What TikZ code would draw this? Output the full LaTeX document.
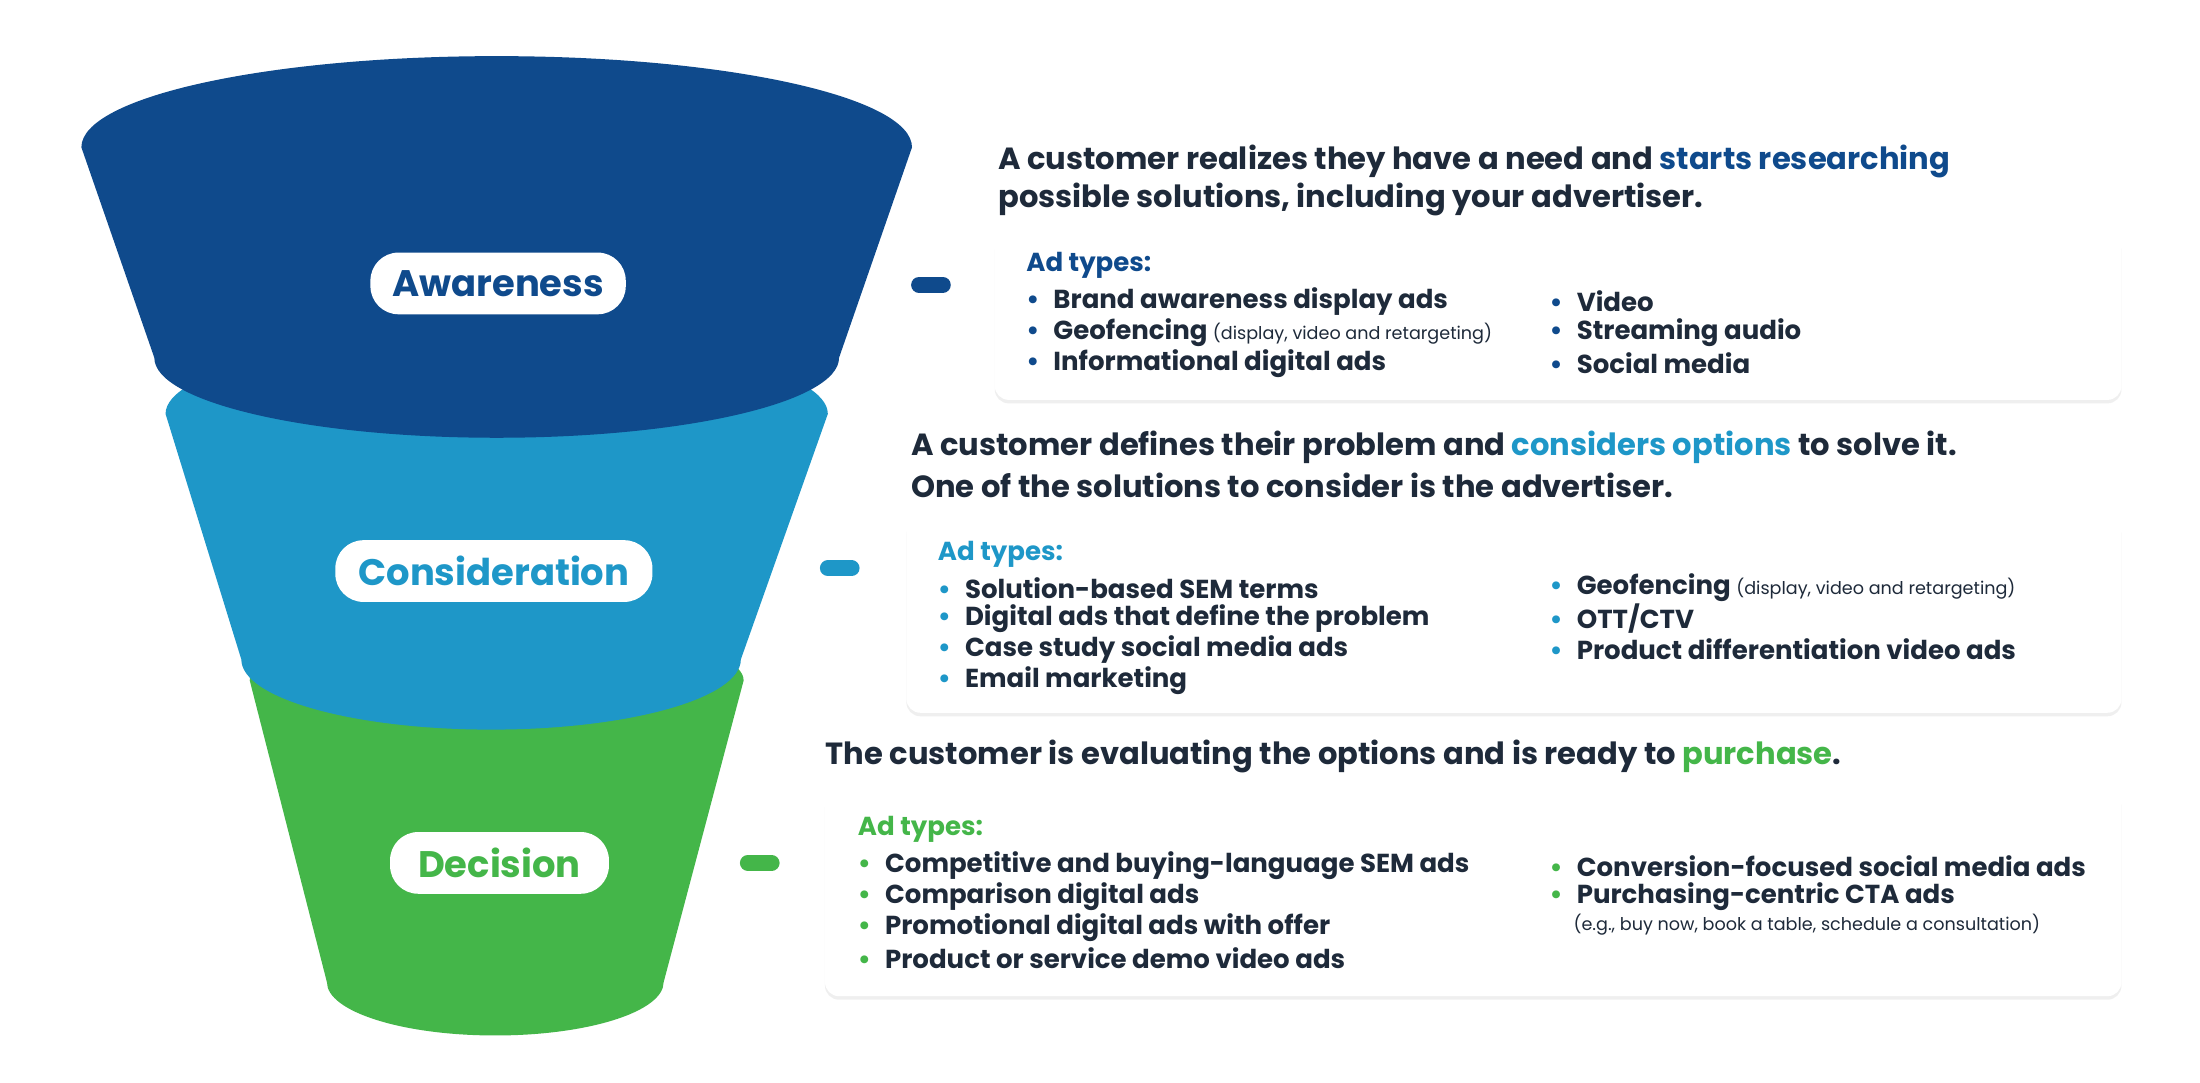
\documentclass[tikz,border=0pt]{standalone}
\usepackage{fontspec}
\setmainfont{Poppins}
\usetikzlibrary{shadows}
\definecolor{cA}{HTML}{0F4A8C}
\definecolor{cC}{HTML}{1E97C8}
\definecolor{cD}{HTML}{44B649}
\definecolor{txt}{HTML}{1E2A3A}
\begin{document}
\begin{tikzpicture}[x=0.01403cm,y=-0.01403cm,
  pill/.style={fill=white,rounded corners=8pt,minimum height=44*0.399pt,font=\fontsize{10.5}{12}\selectfont\bfseries},
  box/.style={fill=white,rounded corners=10*0.399pt,drop shadow={opacity=0.12,shadow xshift=0pt,shadow yshift=-1pt}},
  head/.style={anchor=west,inner sep=0pt,text=txt,font=\fontsize{8.7}{10}\selectfont\bfseries},
  item/.style={anchor=west,inner sep=0pt,text=txt,font=\fontsize{7.4}{9}\selectfont\bfseries},
  tick/.style={line width=4.5pt,line cap=round}]
\useasboundingbox (0,0) rectangle (1568,771.2);
\fill[white] (0,0) rectangle (1568,771.2);
% decision
\fill[cD] (178,485) -- (233,700) arc[start angle=180,end angle=0,x radius=120,y radius=38] -- (530,485) arc[start angle=0,end angle=-180,x radius=176,y radius=40] -- cycle;
% consideration
\fill[cC] (118,295) -- (172,470) arc[start angle=180,end angle=0,x radius=178,y radius=50] -- (590,295) arc[start angle=0,end angle=-180,x radius=236,y radius=55] -- cycle;
% awareness
\fill[cA] (58,105) -- (110,255) arc[start angle=180,end angle=0,x radius=244,y radius=57] -- (650,105) arc[start angle=0,end angle=-180,x radius=296,y radius=65] -- cycle;
\node[pill,text=cA,minimum width=182*0.399pt] (pa) at (355,202) {Awareness};
\node[pill,text=cC,minimum width=226*0.399pt] (pc) at (352,407) {Consideration};
\node[pill,text=cD,minimum width=156*0.399pt] (pd) at (356,615) {Decision};
\draw[tick,cA] (655,203) -- (672,203);
\draw[tick,cC] (590,405) -- (607,405);
\draw[tick,cD] (533,615) -- (550,615);
% boxes
\node[box,minimum width=803*0.399pt,minimum height=118*0.399pt] (b1) at (1110.5,226) {};
\node[box,minimum width=866*0.399pt,minimum height=139*0.399pt] (b2) at (1079,438.5) {};
\node[box,minimum width=924*0.399pt,minimum height=147*0.399pt] (b3) at (1050,636.5) {};
% headings
\node[head] (h1) at (711,115) {A customer realizes they have a need and \textcolor{cA}{starts researching}};
\node[head] (h1b) at (711,142) {possible solutions, including your advertiser.};
\node[head] (h2) at (649,319) {A customer defines their problem and \textcolor{cC}{considers options} to solve it.};
\node[head] (h2b) at (649,346) {One of the solutions to consider is the advertiser.};
\node[head] (h3) at (588,539) {The customer is evaluating the options and is ready to \textcolor{cD}{purchase}.};
% box 1
\newcommand{\sm}[1]{{\fontsize{5}{6}\selectfont\mdseries #1}}
\node[item,text=cA] at (731,189) {Ad types:};
\foreach \t [count=\i] in {Brand awareness display ads,Geofencing \sm{(display, video and retargeting)},Informational digital ads}
  \node[item] at (731,193+22*\i) {\textcolor{cA}{•}\hspace{4pt}\t};
\foreach \t [count=\i] in {Video,Streaming audio,Social media}
  \node[item] at (1104,193+22*\i) {\textcolor{cA}{•}\hspace{4pt}\t};
% box 2
\node[item,text=cC] at (668,395) {Ad types:};
\foreach \t [count=\i] in {Solution-based SEM terms,Digital ads that define the problem,Case study social media ads,Email marketing}
  \node[item] at (668,397+22*\i) {\textcolor{cC}{•}\hspace{4pt}\t};
\foreach \t [count=\i] in {Geofencing \sm{(display, video and retargeting)},OTT/CTV,Product differentiation video ads}
  \node[item] at (1104,397+22*\i) {\textcolor{cC}{•}\hspace{4pt}\t};
% box 3
\node[item,text=cD] at (611,591) {Ad types:};
\foreach \t [count=\i] in {Competitive and buying-language SEM ads,Comparison digital ads,Promotional digital ads with offer,Product or service demo video ads}
  \node[item] at (611,595+22*\i) {\textcolor{cD}{•}\hspace{4pt}\t};
\foreach \t [count=\i] in {Conversion-focused social media ads,Purchasing-centric CTA ads}
  \node[item] at (1104,595+22*\i) {\textcolor{cD}{•}\hspace{4pt}\t};
\node[item] at (1121,659) {\sm{(e.g., buy now, book a table, schedule a consultation)}};
\end{tikzpicture}
\end{document}
